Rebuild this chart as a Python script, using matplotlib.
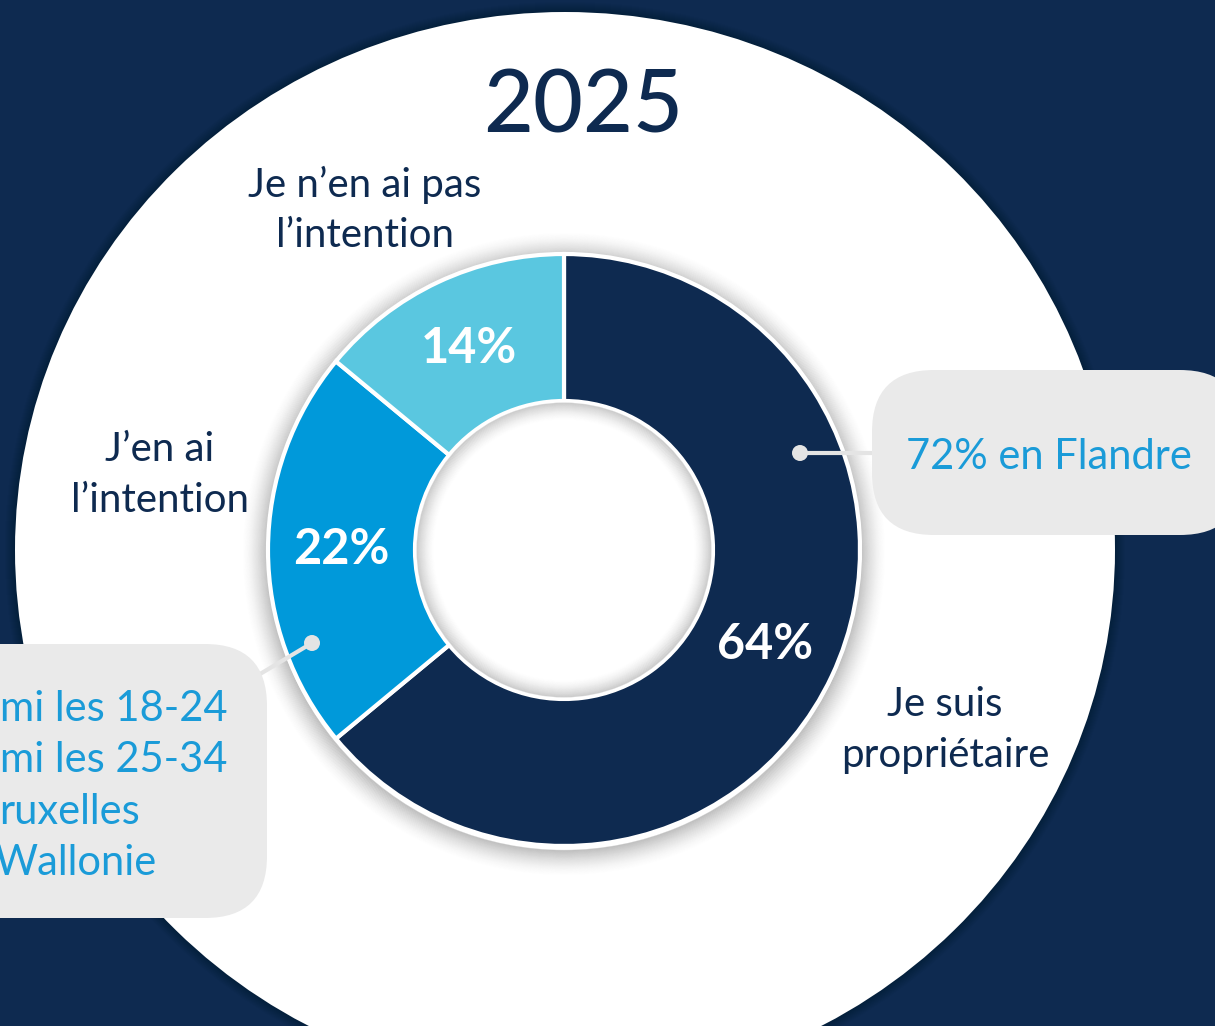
import matplotlib
matplotlib.use("Agg")
import matplotlib.pyplot as plt
from matplotlib import patches

# ---- data ----
categories = ["Je suis\npropriétaire", "J’en ai\nl’intention", "Je n’en ai pas\nl’intention"]
values = [64, 22, 14]
title = "2025"
callout_right = "72% en Flandre"
callout_left = ["mi les 18-24", "mi les 25-34", "ruxelles", "Wallonie"]

# ---- style ----
NAVY = "#0E2A50"
BLUE = "#0099DA"
LIGHT = "#5AC7E0"
TXT_BLUE = "#1A9BD8"
GREY = "#EAEAEA"
LINE_GREY = "#E4E4E4"
colors = [NAVY, BLUE, LIGHT]
FONT = "Lato"

W, H = 1215, 1026
fig = plt.figure(figsize=(W / 100, H / 100), dpi=100, facecolor=NAVY)
ax = fig.add_axes([0, 0, 1, 1])
ax.set_xlim(0, W)
ax.set_ylim(0, H)
ax.axis("off")
ax.set_facecolor(NAVY)

def Y(y):
    return H - y

# big white ellipse with subtle shadow
for j in range(10):
    ax.add_patch(patches.Ellipse((565, Y(550)), 1100 + 2 * (10 - j), 1076 + 2 * (10 - j),
                                 fc="black", ec="none", alpha=0.025, zorder=0.5))
ax.add_patch(patches.Ellipse((565, Y(550)), 1100, 1076, fc="white", ec="none", zorder=1))

cx, cy = 564, Y(550)
R_OUT, R_IN = 296, 149

# outer soft shadow of donut
N = 26
for j in range(N):
    a = 0.20 * (1 - j / N) ** 1.6
    ax.add_patch(patches.Wedge((cx, cy - 4), R_OUT + j + 1.2, 0, 360, width=1.3,
                               fc="black", ec="none", alpha=a, zorder=2))

# donut
wedges, texts, autotexts = ax.pie(
    values, colors=colors, startangle=90, counterclock=False,
    center=(cx, cy), radius=R_OUT, frame=True,
    wedgeprops=dict(width=R_OUT - R_IN, edgecolor="white", linewidth=3),
    autopct=lambda p: f"{p:.0f}%", pctdistance=(R_OUT + R_IN) / 2 / R_OUT,
    textprops=dict(color="white", fontsize=35, fontweight="bold", family=FONT),
)
for w in wedges:
    w.set_zorder(3)
for t in autotexts:
    t.set_zorder(4)
ax.set_xlim(0, W)
ax.set_ylim(0, H)
ax.set_aspect("auto")
ax.axis("off")

# inner hole shadow
M = 18
for j in range(M):
    a = 0.16 * (1 - j / M) ** 1.6
    ax.add_patch(patches.Wedge((cx, cy), R_IN - 1.5 - j, 0, 360, width=1.3,
                               fc="black", ec="none", alpha=a, zorder=3.5))

# title
ax.text(583, Y(108), title, ha="center", va="center", fontsize=62, color=NAVY,
        family=FONT, fontweight="medium", zorder=5)

# category labels
label_pos = [(945, 730), (160, 475), (365, 210)]
for lab, (lx, ly) in zip(categories, label_pos):
    ax.text(lx, Y(ly), lab, ha="center", va="center", fontsize=29, color=NAVY,
            family=FONT, linespacing=1.45, zorder=5)

# right callout
ax.add_patch(patches.FancyBboxPatch((872, Y(535)), 370, 165,
                                    boxstyle="round,pad=0,rounding_size=62",
                                    fc=GREY, ec="none", zorder=6))
ax.plot([800, 874], [Y(453), Y(453)], color=LINE_GREY, lw=3, zorder=5.5,
        solid_capstyle="butt")
ax.add_patch(patches.Circle((800, Y(453)), 8, fc=LINE_GREY, ec="none", zorder=5.6))
ax.text(1049, Y(457), callout_right, ha="center", va="center", fontsize=30,
        color=TXT_BLUE, family=FONT, zorder=7)

# left callout
ax.add_patch(patches.FancyBboxPatch((-80, Y(918)), 347, 274,
                                    boxstyle="round,pad=0,rounding_size=62",
                                    fc=GREY, ec="none", zorder=6))
ax.plot([312, 250], [Y(643), Y(680)], color=LINE_GREY, lw=3, zorder=5.5,
        solid_capstyle="butt")
ax.add_patch(patches.Circle((312, Y(643)), 8, fc=LINE_GREY, ec="none", zorder=5.6))
left_x = [0, 0, -1, -6]
left_y = [709, 760, 812, 863]
for s, lx, ly in zip(callout_left, left_x, left_y):
    ax.text(lx, Y(ly), s, ha="left", va="center", fontsize=30, color=TXT_BLUE,
            family=FONT, zorder=7)

fig.savefig("out.png", dpi=100, facecolor=NAVY)
